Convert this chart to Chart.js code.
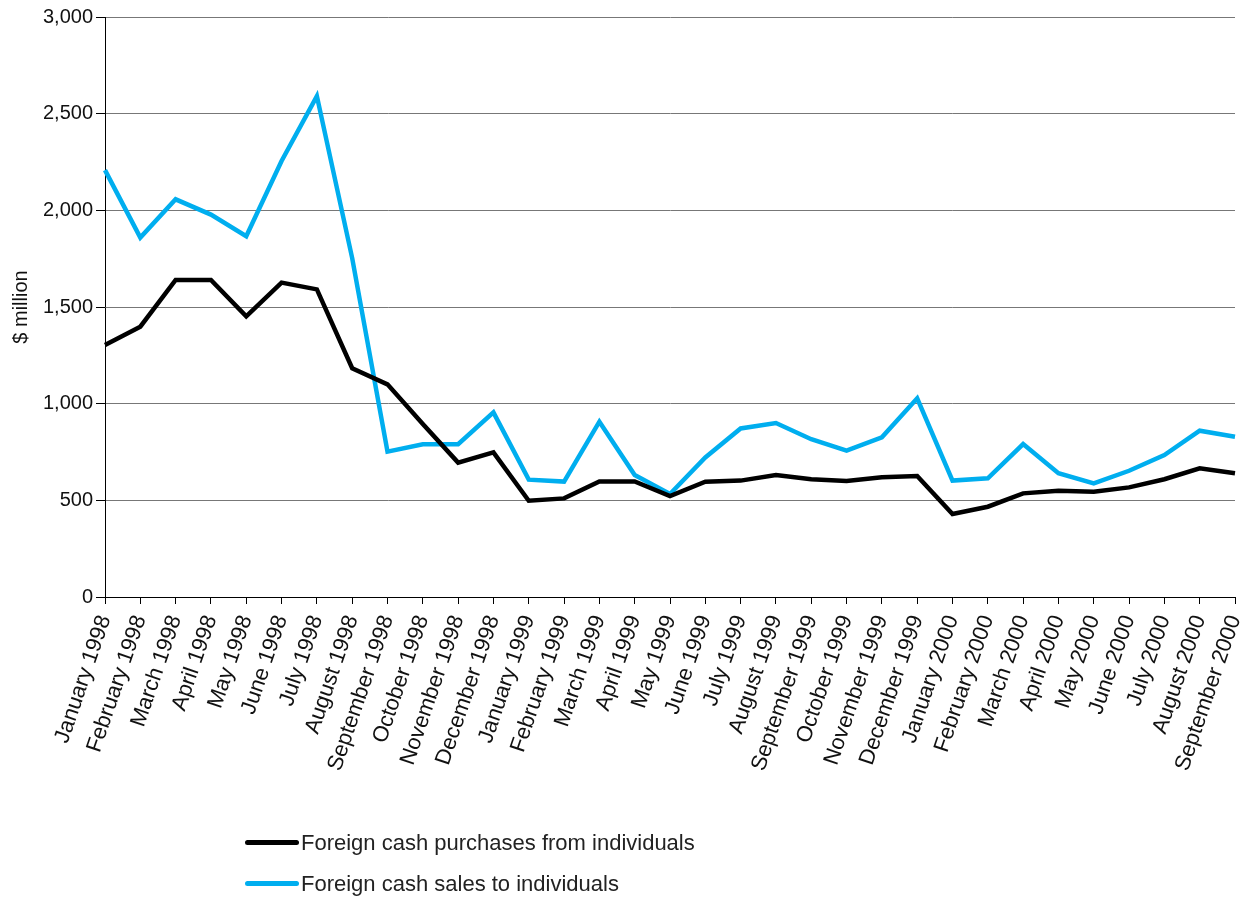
<!DOCTYPE html>
<html>
<head>
<meta charset="utf-8">
<script src="https://cdn.jsdelivr.net/npm/chart.js@4"></script>
<style>
  html, body { margin: 0; padding: 0; background: #fff; }
  #wrap { position: relative; width: 1253px; height: 900px; }
  #legend { position: absolute; left: 245px; top: 822px; font-family: "Liberation Sans", Arial, sans-serif; font-size: 22px; color: #222; }
  #legend div { display: flex; align-items: center; height: 41px; }
  #legend span.sw { display: inline-block; width: 54px; height: 5px; border-radius: 3px; margin-right: 2px; }
</style>
</head>
<body>
<div id="wrap">
  <canvas id="myChart" width="1253" height="900"></canvas>
  <div id="legend"></div>
</div>
<script>
const months = ['January 1998', 'February 1998', 'March 1998', 'April 1998', 'May 1998', 'June 1998', 'July 1998', 'August 1998', 'September 1998', 'October 1998', 'November 1998', 'December 1998',
    'January 1999', 'February 1999', 'March 1999', 'April 1999', 'May 1999', 'June 1999', 'July 1999', 'August 1999', 'September 1999', 'October 1999', 'November 1999', 'December 1999',
    'January 2000', 'February 2000', 'March 2000', 'April 2000', 'May 2000', 'June 2000', 'July 2000', 'August 2000', 'September 2000'];

// $ million
const purchases = [1303, 1398, 1640, 1640, 1452, 1626, 1591, 1183, 1100, 895, 695, 748,
    498, 510, 597, 598, 522, 596, 602, 631, 609, 600, 619, 626,
    429, 467, 536, 550, 545, 567, 609, 666, 640];
const sales = [2208, 1859, 2057, 1978, 1866, 2255, 2591, 1753, 752, 790, 790, 955,
    607, 597, 907, 631, 533, 722, 872, 900, 816, 757, 826, 1028,
    602, 614, 791, 640, 588, 653, 734, 860, 829];

const seriesNames = ['Foreign cash purchases from individuals', 'Foreign cash sales to individuals'];
const seriesColors = ['#000000', '#00aeef'];

const yTicks = [0, 500, 1000, 1500, 2000, 2500, 3000];

const font = "'Liberation Sans', Arial, sans-serif";

document.addEventListener('DOMContentLoaded', () => {
    const ctx = document.getElementById('myChart').getContext('2d');
    const myChart = new Chart(ctx, {
        type: 'line',
        data: {
            labels: months,
            datasets: [
                { label: seriesNames[0], data: purchases, borderColor: seriesColors[0], backgroundColor: seriesColors[0], borderWidth: 4.5, pointRadius: 0, tension: 0 },
                { label: seriesNames[1], data: sales, borderColor: seriesColors[1], backgroundColor: seriesColors[1], borderWidth: 4.5, pointRadius: 0, tension: 0 }
            ]
        },
        options: {
            responsive: false,
            animation: false,
            layout: { padding: { top: 17, right: 18, left: 0, bottom: 0 } },
            plugins: {
                legend: { display: false },
                tooltip: { enabled: false }
            },
            scales: {
                x: {
                    offset: false,
                    grid: { drawOnChartArea: false, color: '#000', tickLength: 7 },
                    border: { color: '#000', width: 1 },
                    ticks: {
                        autoSkip: false, minRotation: 71, maxRotation: 71, padding: 8,
                        color: '#111', font: { family: font, size: 22 }
                    },
                    afterFit: (scale) => {
                        scale.height = 303;
                        // keep the plot edge where the reference has it
                        scale.paddingLeft = 0;
                        scale.paddingRight = 0;
                    }
                },
                y: {
                    min: 0, max: 3000,
                    afterBuildTicks: (scale) => { scale.ticks = yTicks.map(v => ({ value: v })); },
                    grid: { color: '#777', tickColor: '#000', tickLength: 9, lineWidth: 1 },
                    border: { color: '#000', width: 1 },
                    ticks: {
                        padding: 3, color: '#111', font: { family: font, size: 20 },
                        callback: (v) => v.toLocaleString('en-US')
                    },
                    title: { display: true, text: '$ million', color: '#111', font: { family: font, size: 20 }, padding: { top: 9, bottom: 0 } },
                    afterFit: (scale) => { scale.width = 105; }
                }
            }
        }
    });

    // legend as two stacked rows, built from the datasets
    const legend = document.getElementById('legend');
    myChart.data.datasets.forEach(ds => {
        const row = document.createElement('div');
        const sw = document.createElement('span');
        sw.className = 'sw';
        sw.style.background = ds.borderColor;
        row.appendChild(sw);
        row.appendChild(document.createTextNode(ds.label));
        legend.appendChild(row);
    });
});
</script>
</body>
</html>
